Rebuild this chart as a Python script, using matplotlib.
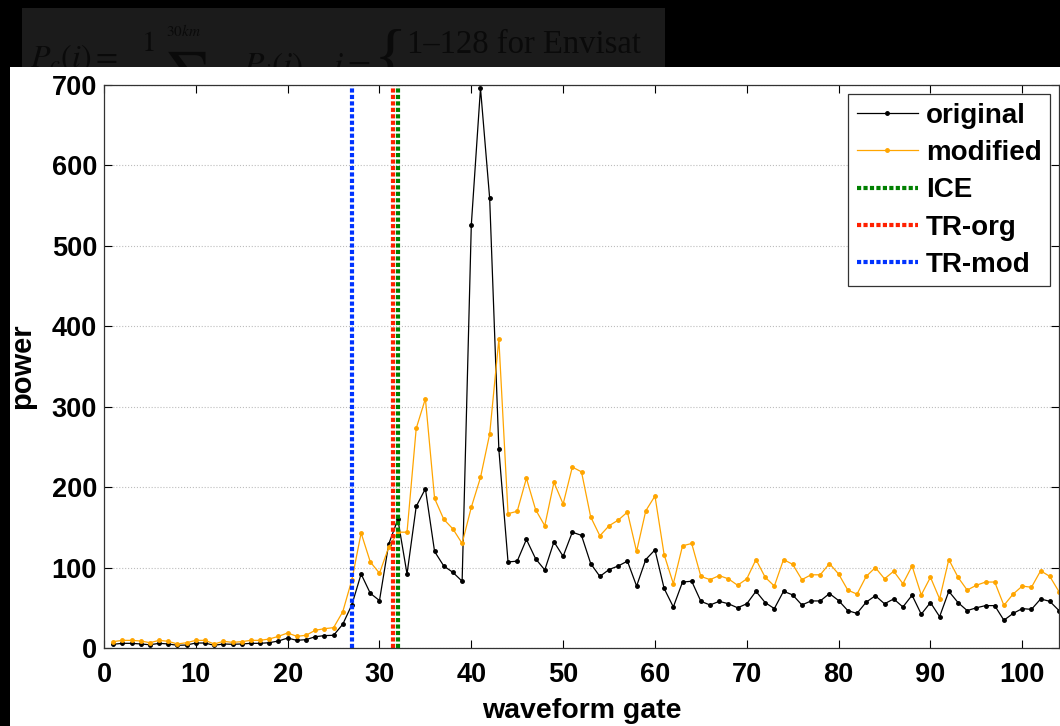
import matplotlib
matplotlib.use("Agg")
import matplotlib.pyplot as plt
from matplotlib.patches import Rectangle

# --- waveform data (gates 1..104) ---
gates = list(range(1, 105))

original = [4.6, 5.8, 5.8, 5.0, 4.0, 5.8, 5.0, 3.3, 3.7, 6.2,
            6.2, 3.3, 5.0, 4.6, 5.0, 5.8, 5.8, 6.6, 8.7, 12.4,
            9.5, 10.4, 14.0, 15.4, 15.8, 29.5, 54, 92, 68, 59,
            129, 160, 92, 176, 198, 120, 102, 94, 83, 526,
            696, 559, 247, 107, 108, 135, 111, 97, 132, 114,
            144, 140, 105, 89, 97.5, 102, 108, 77, 110, 122,
            74, 51, 82, 83, 58, 53.5, 58, 55, 50, 55,
            70.5, 56.5, 49, 70.5, 66, 53.5, 58.5, 58.5, 67.7, 59,
            46.5, 43, 57, 65, 55, 61, 51, 65.6, 42, 56.5,
            39, 70.5, 56.5, 46.5, 50, 52.7, 52.7, 34.5, 43, 49,
            48, 61, 58, 46.5]

modified = [7.9, 9.5, 9.5, 8.7, 6.6, 9.5, 8.3, 5.0, 6.6, 9.5,
            9.5, 5.0, 8.3, 7.0, 7.9, 9.5, 9.5, 11.2, 14.5, 18.7,
            14.5, 15.8, 22, 24, 25.3, 45, 85, 143, 107, 93,
            125, 144, 144, 273, 310, 186, 160, 148, 130, 175,
            212, 266, 384, 167, 170, 211, 172, 152, 206, 179,
            225, 219, 163, 139.5, 152, 159, 169, 120, 170.6, 189,
            116, 80, 127, 130, 89, 85, 90, 86, 78, 86,
            110, 88, 77, 110, 104, 85, 91, 91, 105, 92,
            72, 67, 89, 100, 86, 95.5, 80, 102, 66, 88,
            61, 110, 88, 72, 78, 82, 82, 53, 67, 77,
            75.5, 96, 89, 70]

# retracking gates
ice_gate = 32.0
tr_org_gate = 31.45
tr_mod_gate = 27.0

plt.rcParams['font.family'] = ['Liberation Sans', 'DejaVu Sans']
plt.rcParams['mathtext.fontset'] = 'stix'

W, H = 1060, 726
fig = plt.figure(figsize=(W / 100, H / 100), dpi=100, facecolor='black')


def fx(px):
    return px / W


def fy(py):
    return 1 - py / H


# --- background pieces of the screenshot ---
box = Rectangle((fx(22), fy(67)), fx(665) - fx(22), fy(8) - fy(67),
                transform=fig.transFigure, facecolor='#1b1b1b',
                edgecolor='none', zorder=-5)
fig.add_artist(box)

formula_color = '#0a0a0a'
serif = dict(color=formula_color, va='baseline', ha='left', zorder=-4,
             family='Liberation Serif')
pieces = [
    fig.text(fx(30), fy(67), r'$P_{c}(i) =$', fontsize=23, **serif),
    fig.text(fx(141), fy(51), r'$1$', fontsize=21, **serif),
    fig.text(fx(166), fy(36), r'$30km$', fontsize=11, **serif),
    fig.text(fx(163), fy(90), r'$\sum$', fontsize=36, **serif),
    fig.text(fx(243), fy(75), r'$P_{i}(i)\ ,$', fontsize=24, **serif),
    fig.text(fx(333), fy(75), r'$i =$', fontsize=24, **serif),
    fig.text(fx(374), fy(78), '{', fontsize=50, **serif),
    fig.text(fx(407), fy(53), '1\u2013128 for Envisat', fontsize=23.5, **serif),
]
for t in pieces:
    t.set_clip_path(box)

fig.add_artist(Rectangle((fx(10), 0), 1 - fx(10), fy(67),
                         transform=fig.transFigure, facecolor='white',
                         edgecolor='none', zorder=-3))

# --- axes ---
ax_left, ax_right, ax_top, ax_bottom = 104, 1059, 85, 648
ax = fig.add_axes([fx(ax_left), fy(ax_bottom), (ax_right - ax_left) / W,
                   (ax_bottom - ax_top) / H])

ax.plot(gates, original, color='black', lw=0.9, marker='.', ms=5,
        label='original')
ax.plot(gates, modified, color='#ffa500', lw=0.9, marker='.', ms=5,
        label='modified')

dots = (0, (1, 0.55))
ax.axvline(ice_gate, color='#008000', lw=3, ls=dots, label='ICE')
ax.axvline(tr_org_gate, color='#ff2000', lw=3, ls=dots, label='TR-org')
ax.axvline(tr_mod_gate, color='#0033ff', lw=3, ls=dots, label='TR-mod')

ax.set_xlim(0, 104)
ax.set_ylim(0, 700)
ax.set_xticks(range(0, 101, 10))
ax.set_yticks(range(0, 701, 100))
ax.grid(axis='y', linestyle=':', color='#bdbdbd', lw=0.8)
ax.set_axisbelow(True)

ax.tick_params(direction='in', length=6, width=0.8, top=True, right=True,
               labelsize=19.5, colors='black')
ax.tick_params(axis='x', pad=10)
ax.tick_params(axis='y', pad=5)
for lab in ax.get_xticklabels() + ax.get_yticklabels():
    lab.set_fontweight('bold')
for sp in ax.spines.values():
    sp.set_color('#333333')
    sp.set_linewidth(0.9)

ax.set_xlabel('waveform gate', fontsize=20.5, fontweight='bold', labelpad=7)
ax.set_ylabel('power', fontsize=21, fontweight='bold', labelpad=11)

leg = ax.legend(loc='upper right', bbox_to_anchor=(0.9995, 0.9985),
                prop={'weight': 'bold', 'size': 20},
                numpoints=1, handlelength=2.2, handletextpad=0.3,
                labelspacing=0.41, borderpad=0.3, borderaxespad=0.3,
                fancybox=False, framealpha=1)
leg.get_frame().set_edgecolor('#333333')
leg.get_frame().set_linewidth(0.9)

fig.savefig('out.png', dpi=100, facecolor='black')
